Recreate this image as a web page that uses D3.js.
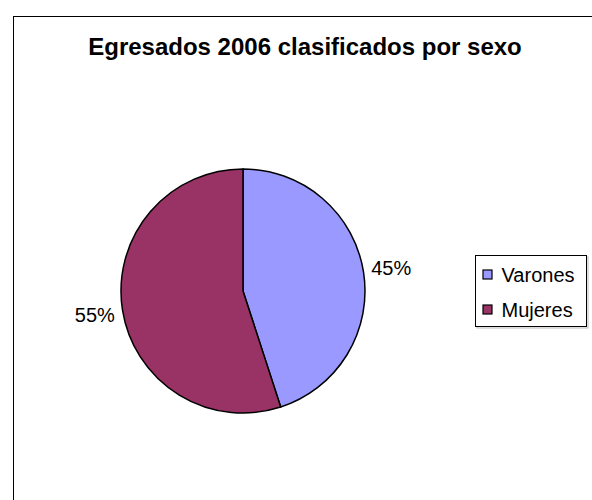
<!DOCTYPE html>
<html lang="es">
<head>
<meta charset="utf-8">
<title>Egresados 2006</title>
<script src="https://d3js.org/d3.v7.min.js"></script>
<style>
  body { margin: 0; background: #fff; }
  text { font-family: "Liberation Sans", Arial, sans-serif; fill: #000; }
</style>
</head>
<body>
<script>
const categories = ["Varones", "Mujeres"];
const values = [45, 55];
const colors = ["#9999FF", "#993366"];
const chartTitle = "Egresados 2006 clasificados por sexo";

const width = 592, height = 500;
const cx = 243, cy = 291, radius = 122;

const svg = d3.select("body").append("svg")
  .attr("width", width)
  .attr("height", height);

svg.append("rect").attr("width", width).attr("height", height).attr("fill", "#fff");

// outer chart frame (runs past the right and bottom edge)
svg.append("rect")
  .attr("x", 13.5).attr("y", 16.5)
  .attr("width", 620).attr("height", 520)
  .attr("fill", "none").attr("stroke", "#000").attr("stroke-width", 1);

svg.append("text")
  .attr("x", 305).attr("y", 55)
  .attr("text-anchor", "middle")
  .attr("font-size", 24).attr("font-weight", "bold")
  .text(chartTitle);

const data = categories.map((c, i) => ({ name: c, value: values[i] }));
const color = d3.scaleOrdinal().domain(categories).range(colors);

const pie = d3.pie().value(d => d.value).sort(null);
const arc = d3.arc().innerRadius(0).outerRadius(radius);
const labelArc = d3.arc().innerRadius(150).outerRadius(150);
const total = d3.sum(values);

const g = svg.append("g").attr("transform", `translate(${cx},${cy})`);
const arcs = pie(data);

g.selectAll("path.slice").data(arcs).join("path")
  .attr("class", "slice")
  .attr("d", arc)
  .attr("fill", d => color(d.data.name))
  .attr("stroke", "#000")
  .attr("stroke-width", 1.5)
  .attr("stroke-linejoin", "round");

g.selectAll("text.lbl").data(arcs).join("text")
  .attr("class", "lbl")
  .attr("transform", d => `translate(${labelArc.centroid(d)})`)
  .attr("text-anchor", "middle")
  .attr("dy", "0.36em")
  .attr("font-size", 20)
  .text(d => Math.round(d.data.value / total * 100) + "%");

// legend
const lx = 475.5, ly = 255.5, lw = 111, lh = 71;
svg.append("rect")
  .attr("x", lx + 1.5).attr("y", ly + 1.5).attr("width", lw).attr("height", lh)
  .attr("fill", "none").attr("stroke", "#bbb").attr("stroke-width", 1);
svg.append("rect")
  .attr("x", lx).attr("y", ly).attr("width", lw).attr("height", lh)
  .attr("fill", "#fff").attr("stroke", "#000").attr("stroke-width", 1);

const rowY = d3.scalePoint().domain(categories).range([ly + 19, ly + 54]);
const items = svg.selectAll("g.leg").data(categories).join("g")
  .attr("class", "leg")
  .attr("transform", d => `translate(${lx + 7},${rowY(d)})`);
items.append("rect")
  .attr("x", 0.5).attr("y", -4.5).attr("width", 9).attr("height", 9)
  .attr("fill", d => color(d)).attr("stroke", "#000").attr("stroke-width", 1.2);
items.append("text")
  .attr("x", 19).attr("y", 7)
  .attr("font-size", 20)
  .text(d => d);
</script>
</body>
</html>
